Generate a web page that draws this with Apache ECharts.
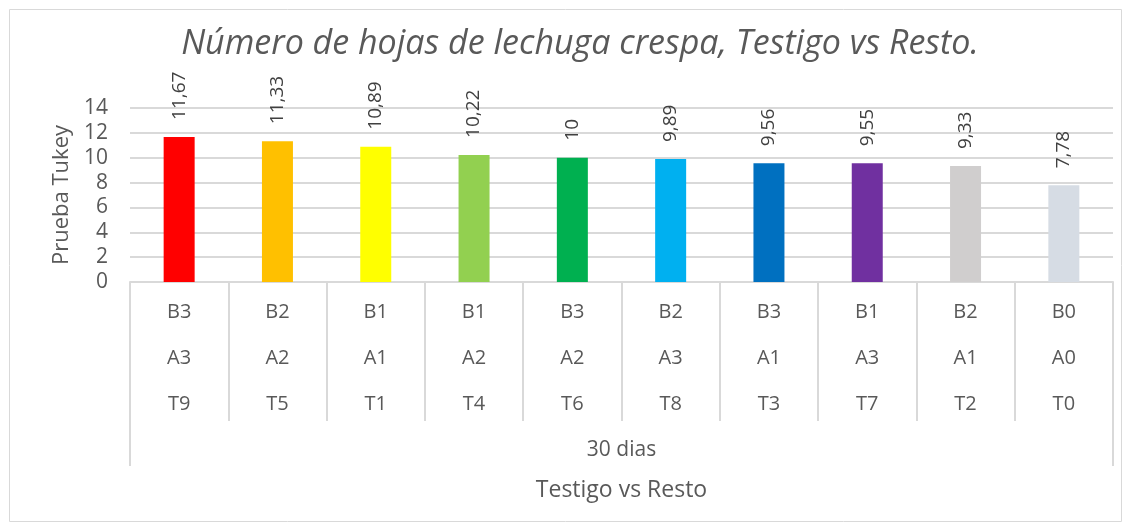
<!DOCTYPE html>
<html style="height: 100%">
<head>
    <meta charset="UTF-8">
    <title>Número de hojas de lechuga crespa</title>
</head>
<body style="height: 100%; margin: 0; background: #fff">
    <div id="container" style="width: 1131px; height: 531px"></div>

    <script src="https://cdn.jsdelivr.net/npm/echarts@6/dist/echarts.min.js"></script>
    <script type="text/javascript">
        // data
        var rowB = ['B3', 'B2', 'B1', 'B1', 'B3', 'B2', 'B3', 'B1', 'B2', 'B0'];
        var rowA = ['A3', 'A2', 'A1', 'A2', 'A2', 'A3', 'A1', 'A3', 'A1', 'A0'];
        var rowT = ['T9', 'T5', 'T1', 'T4', 'T6', 'T8', 'T3', 'T7', 'T2', 'T0'];
        var values = [11.67, 11.33, 10.89, 10.22, 10, 9.89, 9.56, 9.55, 9.33, 7.78];
        var barColors = ['#ff0000', '#ffc000', '#ffff00', '#92d050', '#00b050',
            '#00b0f0', '#0070c0', '#7030a0', '#d0cece', '#d6dce4'];
        var groupLabel = ['30 dias'];

        var dom = document.getElementById('container');
        var myChart = echarts.init(dom);
        var font = '"Open Sans", "Noto Sans", sans-serif';
        var grey = '#d9d9d9';
        var textCol = '#595959';

        var categories = [];
        for (var i = 0; i < rowT.length; i++) {
            categories.push(rowB[i] + '|' + rowA[i] + '|' + rowT[i]);
        }

        var barData = values.map(function (v, i) {
            return {value: v, itemStyle: {color: barColors[i]}};
        });

        var option = {
            animation: false,
            textStyle: {fontFamily: font},
            title: {
                text: 'Número de hojas de lechuga crespa, Testigo vs Resto.',
                left: 575,
                textAlign: 'center',
                top: 22,
                textStyle: {
                    fontFamily: font,
                    fontStyle: 'italic',
                    fontWeight: 'normal',
                    fontSize: 34,
                    color: textCol
                }
            },
            graphic: [{
                type: 'rect',
                shape: {x: 9.5, y: 9.5, width: 1112, height: 512},
                style: {fill: 'none', stroke: grey, lineWidth: 1},
                z: -1
            }],
            grid: {left: 130, right: 18, top: 108, bottom: 249},
            xAxis: [{
                type: 'category',
                data: categories,
                axisLine: {show: true, lineStyle: {color: grey, width: 2}},
                axisTick: {show: true, length: 139, lineStyle: {color: grey, width: 2}},
                axisLabel: {
                    interval: 0,
                    margin: 7,
                    formatter: function (v) {
                        var p = v.split('|');
                        return '{t|' + p[0] + '}\n{t|' + p[1] + '}\n{t|' + p[2] + '}';
                    },
                    rich: {
                        t: {fontFamily: font, fontSize: 20, color: textCol, lineHeight: 46}
                    }
                }
            }, {
                type: 'category',
                data: groupLabel,
                position: 'bottom',
                axisLine: {show: false},
                axisTick: {show: true, length: 184, lineStyle: {color: grey, width: 2}},
                axisLabel: {margin: 158, fontSize: 21, color: textCol, fontFamily: font},
                name: 'Testigo vs Resto',
                nameLocation: 'middle',
                nameGap: 197,
                nameTextStyle: {fontSize: 23, color: textCol, fontFamily: font}
            }],
            yAxis: {
                type: 'value',
                min: 0,
                max: 14,
                interval: 2,
                name: 'Prueba Tukey',
                nameLocation: 'middle',
                nameGap: 57,
                nameTextStyle: {fontSize: 22, color: textCol, fontFamily: font},
                axisLine: {show: false},
                axisTick: {show: false},
                axisLabel: {fontSize: 21, color: textCol, margin: 22, fontFamily: font},
                splitLine: {lineStyle: {color: grey, width: 2}}
            },
            series: [{
                type: 'bar',
                data: barData,
                barWidth: 31,
                label: {
                    show: true,
                    position: 'top',
                    rotate: 90,
                    align: 'left',
                    verticalAlign: 'middle',
                    distance: 17,
                    fontSize: 19,
                    color: '#404040',
                    fontFamily: font,
                    formatter: function (p) {
                        return String(p.value).replace('.', ',');
                    }
                }
            }]
        };

        myChart.setOption(option);
    </script>
</body>
</html>
